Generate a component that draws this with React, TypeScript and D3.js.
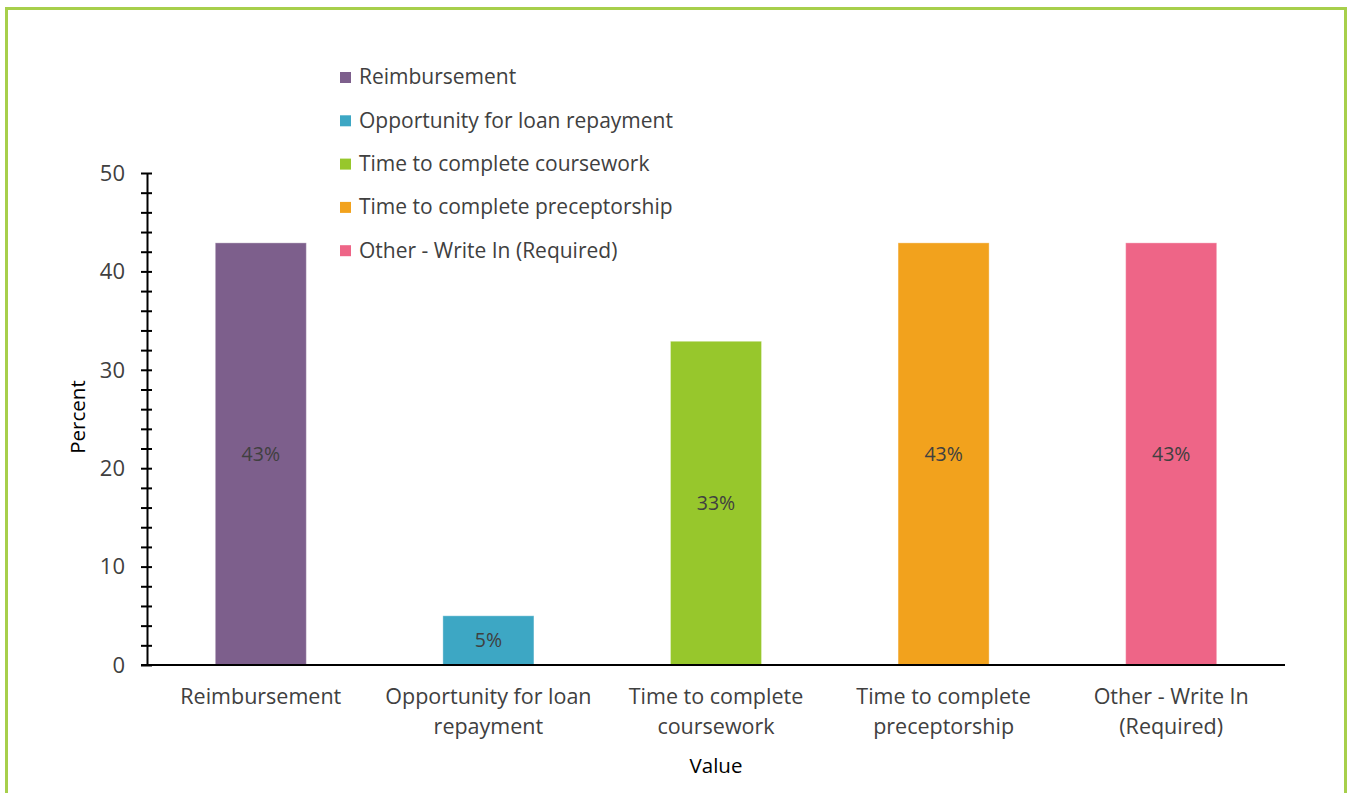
import { useRef, useEffect } from 'react';
import * as d3 from 'd3';

const WIDTH = 1348;
const HEIGHT = 793;
const MARGIN = { top: 173, right: 63, bottom: 128, left: 147 };
const FONT = '"Open Sans", Lato, sans-serif';
const TEXT = '#404040';

const categories = [
  'Reimbursement',
  'Opportunity for loan repayment',
  'Time to complete coursework',
  'Time to complete preceptorship',
  'Other - Write In (Required)',
];
// two-line tick labels as shown under the axis
const tickLines = [
  ['Reimbursement'],
  ['Opportunity for loan', 'repayment'],
  ['Time to complete', 'coursework'],
  ['Time to complete', 'preceptorship'],
  ['Other - Write In', '(Required)'],
];
const values = [42.9, 5, 32.9, 42.9, 42.9];
const valueLabels = ['43%', '5%', '33%', '43%', '43%'];
const colours = ['#7D5F8C', '#3DA7C4', '#97C72C', '#F2A21D', '#EE6587'];
const yTicks = [0, 10, 20, 30, 40, 50];

export default function App() {
  const svgRef = useRef<SVGSVGElement>(null);

  useEffect(() => {
    if (!svgRef.current) return;
    const svg = d3.select(svgRef.current);
    svg.selectAll('*').remove();

    const innerWidth = WIDTH - MARGIN.left - MARGIN.right;
    const innerHeight = HEIGHT - MARGIN.top - MARGIN.bottom;

    // green frame
    svg.append('path')
      .attr('d', `M6.5,${HEIGHT + 5} V8.5 H1345.5 V${HEIGHT + 5}`)
      .attr('fill', 'none')
      .attr('stroke', '#A7CF4B')
      .attr('stroke-width', 3);

    const x = d3.scaleBand<string>()
      .domain(categories)
      .range([0, innerWidth])
      .paddingInner(0.6)
      .paddingOuter(0.3);

    const y = d3.scaleLinear()
      .domain([0, 50])
      .range([innerHeight, 0]);

    const g = svg.append('g')
      .attr('transform', `translate(${MARGIN.left},${MARGIN.top})`);

    // bars
    g.selectAll('rect.bar')
      .data(values)
      .join('rect')
      .attr('class', 'bar')
      .attr('x', (_, i) => x(categories[i])!)
      .attr('y', d => y(d))
      .attr('width', x.bandwidth())
      .attr('height', d => innerHeight - y(d))
      .attr('fill', (_, i) => colours[i])
      .attr('stroke', '#ffffff')
      .attr('stroke-opacity', 0.35)
      .attr('stroke-width', 1);

    // value labels in the middle of each bar
    g.selectAll('text.val')
      .data(values)
      .join('text')
      .attr('class', 'val')
      .attr('x', (_, i) => x(categories[i])! + x.bandwidth() / 2)
      .attr('y', d => (y(d) + innerHeight) / 2)
      .attr('dy', '0.35em')
      .attr('text-anchor', 'middle')
      .attr('font-family', FONT)
      .attr('font-size', 19.5)
      .attr('fill', TEXT)
      .text((_, i) => valueLabels[i]);

    // y axis with minor ticks every 2
    const yAxis = g.append('g')
      .call(
        d3.axisLeft(y)
          .tickValues(d3.range(0, 51, 2))
          .tickSize(5)
          .tickSizeOuter(0)
          .tickFormat(() => '')
      );
    yAxis.select('.domain').attr('stroke', '#000').attr('stroke-width', 2);
    yAxis.selectAll('.tick line')
      .attr('x1', -6)
      .attr('x2', 5)
      .attr('stroke', '#000')
      .attr('stroke-width', 2);

    g.selectAll('text.ytick')
      .data(yTicks)
      .join('text')
      .attr('class', 'ytick')
      .attr('x', -22)
      .attr('y', d => y(d))
      .attr('dy', '0.35em')
      .attr('text-anchor', 'end')
      .attr('font-family', FONT)
      .attr('font-size', 22)
      .attr('fill', TEXT)
      .text(d => d);

    // x axis
    g.append('line')
      .attr('x1', -6)
      .attr('x2', innerWidth)
      .attr('y1', innerHeight)
      .attr('y2', innerHeight)
      .attr('stroke', '#000')
      .attr('stroke-width', 2);

    categories.forEach((c, i) => {
      const t = g.append('text')
        .attr('x', x(c)! + x.bandwidth() / 2)
        .attr('y', innerHeight + 39)
        .attr('text-anchor', 'middle')
        .attr('font-family', FONT)
        .attr('font-size', 21.5)
        .attr('fill', TEXT);
      tickLines[i].forEach((line, j) => {
        t.append('tspan')
          .attr('x', x(c)! + x.bandwidth() / 2)
          .attr('dy', j === 0 ? 0 : 30)
          .text(line);
      });
    });

    // axis titles
    g.append('text')
      .attr('transform', `translate(-62,${innerHeight / 2 - 2}) rotate(-90)`)
      .attr('text-anchor', 'middle')
      .attr('font-family', FONT)
      .attr('font-size', 20.5)
      .attr('fill', '#000')
      .text('Percent');

    g.append('text')
      .attr('x', 569)
      .attr('y', innerHeight + 108)
      .attr('text-anchor', 'middle')
      .attr('font-family', FONT)
      .attr('font-size', 20.5)
      .attr('fill', '#000')
      .text('Value');

    // legend
    const legend = svg.append('g').attr('transform', 'translate(340,77)');
    categories.forEach((c, i) => {
      const row = legend.append('g').attr('transform', `translate(0,${i * 43.3})`);
      row.append('rect')
        .attr('x', 0)
        .attr('y', -5)
        .attr('width', 11)
        .attr('height', 11)
        .attr('fill', colours[i]);
      row.append('text')
        .attr('x', 19)
        .attr('y', 0)
        .attr('dy', '0.35em')
        .attr('font-family', FONT)
        .attr('font-size', 21)
        .attr('fill', TEXT)
        .text(c);
    });
  }, []);

  return (
    <svg
      ref={svgRef}
      width={WIDTH}
      height={HEIGHT}
      style={{ position: 'absolute', left: 0, top: 0, background: '#fff' }}
    />
  );
}
